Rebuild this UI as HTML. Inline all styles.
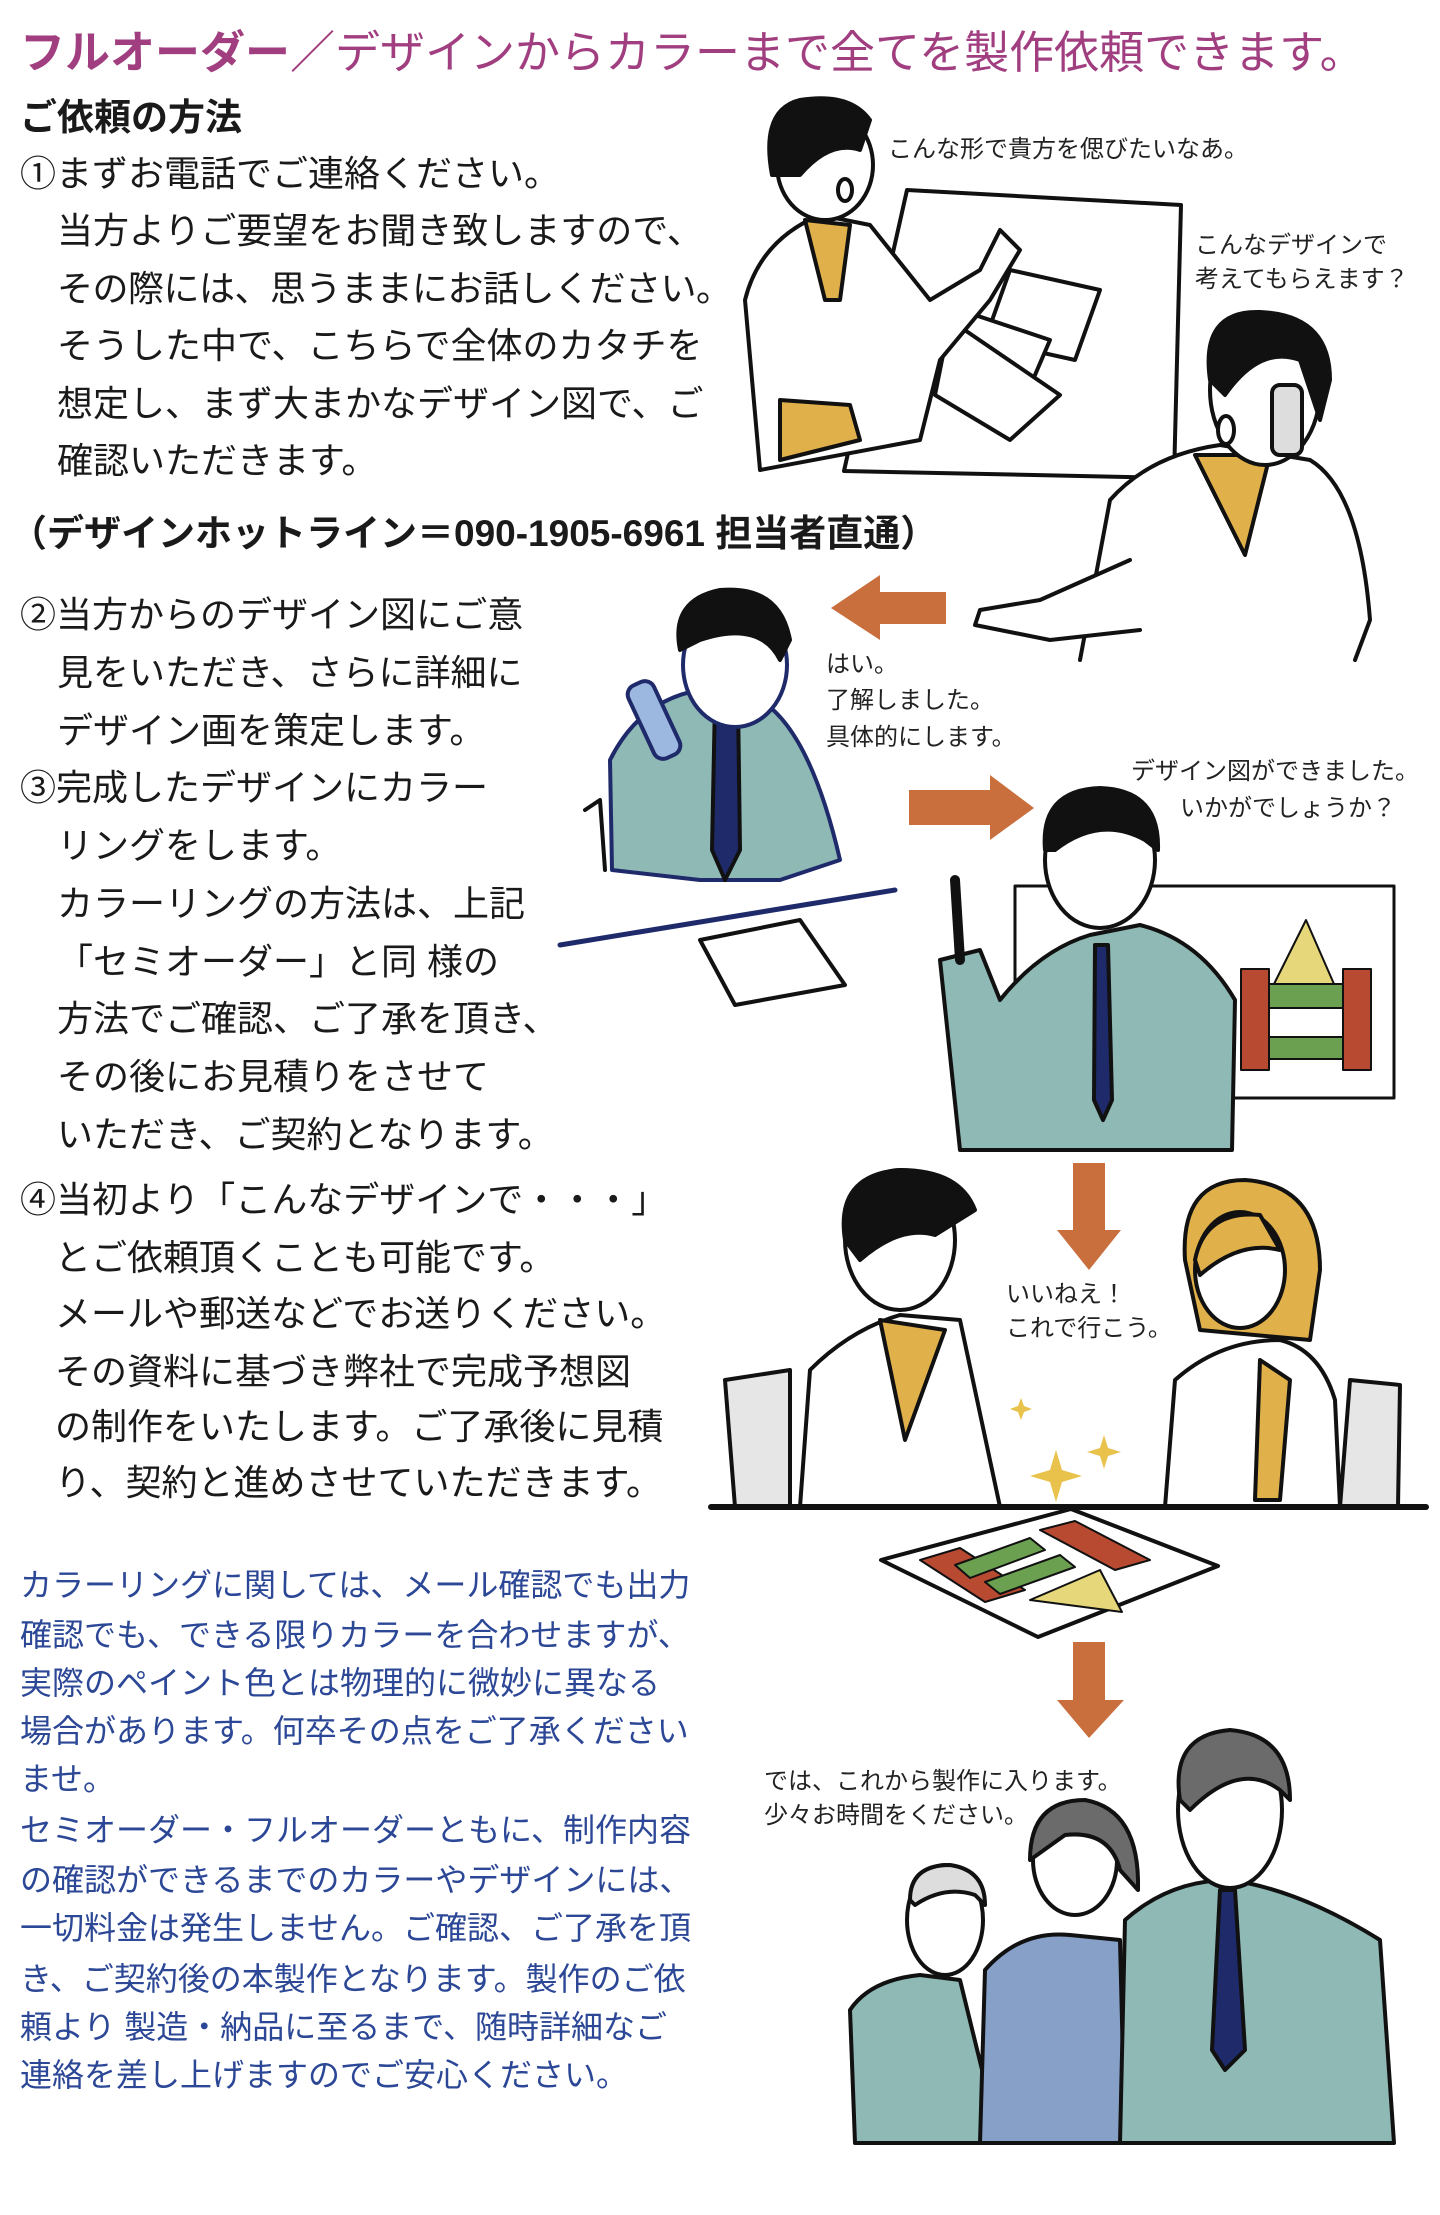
<!DOCTYPE html>
<html><head><meta charset="utf-8"><style>
html,body{margin:0;padding:0;background:#fff;}
body{width:1440px;height:2215px;position:relative;overflow:hidden;font-family:"Liberation Sans","Noto Sans CJK JP",sans-serif;}
.t{position:absolute;white-space:nowrap;color:#1a1a1a;}
.m{font-size:36px;line-height:36px;}
.b{font-size:32px;line-height:32px;color:#2b4796;}
.s{font-size:24px;line-height:24px;color:#222;}
svg{position:absolute;left:0;top:0;}
</style></head><body>
<svg width="1440" height="2215" viewBox="0 0 1440 2215">
<g stroke="#111" stroke-width="4" stroke-linejoin="round" stroke-linecap="round">
<polygon points="907,190 1181,205 1174,478 844,471" fill="#fff"/>
<polygon points="1010,270 1100,290 1075,360 985,340" fill="#fff"/>
<polygon points="960,310 1050,340 1020,410 930,380" fill="#fff"/>
<polygon points="950,320 1060,395 1010,440 935,395" fill="#fff"/>
<path d="M760,470 L745,300 Q760,240 820,215 L870,225 L930,300 L980,270 L1000,230 L1020,250 L990,300 L940,360 L920,440 Z" fill="#fff"/>
<polygon points="805,220 850,225 840,300 825,300" fill="#e0b04a"/>
<path d="M780,400 L850,405 L860,440 L780,460 Z" fill="#e0b04a"/>
<ellipse cx="825" cy="165" rx="48" ry="55" fill="#fff"/>
<path d="M772,175 Q760,110 800,100 Q850,92 870,120 L860,150 Q830,140 800,175 Z" fill="#111"/>
<ellipse cx="845" cy="190" rx="7" ry="11" fill="#fff"/>
<path d="M1080,660 L1110,500 Q1150,455 1220,445 L1310,460 Q1360,490 1370,620 L1355,660" fill="#fff"/>
<polygon points="1195,455 1270,455 1245,555" fill="#e0b04a"/>
<path d="M1130,560 L1040,600 L980,610 L975,625 L1050,640 L1140,630" fill="#fff"/>
<ellipse cx="1265" cy="390" rx="55" ry="75" fill="#fff"/>
<path d="M1210,380 Q1200,310 1260,312 Q1330,315 1330,380 L1320,420 L1300,360 Q1260,345 1225,395 Z" fill="#111"/>
<rect x="1272" y="385" width="30" height="70" rx="8" fill="#ddd"/>
<ellipse cx="1226" cy="430" rx="8" ry="14" fill="#fff"/>
<path d="M585,810 L600,800 L605,870" fill="none"/>
<path d="M612,870 L610,760 Q640,700 700,690 L760,700 Q810,730 840,860 L780,880 L700,880 Z" fill="#8fb9b5" stroke="#1f2a6b"/>
<polygon points="715,700 738,700 740,850 725,880 712,850" fill="#1f2a6b"/>
<ellipse cx="735" cy="665" rx="52" ry="62" fill="#fff" stroke="#1f2a6b"/>
<path d="M680,650 Q670,600 720,590 Q780,585 790,640 L780,660 Q760,620 700,640 Z" fill="#111" stroke="#111"/>
<rect x="640" y="680" width="28" height="80" rx="10" fill="#9cb8e0" stroke="#1f2a6b" transform="rotate(-25 654 720)"/>
<path d="M560,945 L895,890" stroke="#1f2a6b" stroke-width="5"/>
<polygon points="700,940 800,920 845,985 735,1005" fill="#fff"/>
<polygon points="946,592 880,592 880,575 831,608 880,640 880,624 946,624" fill="#c96f3d" stroke="none"/>
<polygon points="909,790 990,790 990,775 1034,808 990,840 990,825 909,825" fill="#c96f3d" stroke="none"/>
<polygon points="1073,1163 1105,1163 1105,1230 1121,1230 1089,1270 1057,1230 1073,1230" fill="#c96f3d" stroke="none"/>
<polygon points="1073,1642 1105,1642 1105,1700 1124,1700 1089,1738 1057,1700 1073,1700" fill="#c96f3d" stroke="none"/>
<rect x="1015" y="886" width="379" height="212" fill="#fff" stroke-width="3"/>
<polygon points="1306,920 1334,984 1274,984" fill="#e6d77a" stroke-width="2"/>
<rect x="1241" y="969" width="28" height="101" fill="#b84a32" stroke-width="2"/>
<rect x="1343" y="969" width="28" height="101" fill="#b84a32" stroke-width="2"/>
<rect x="1269" y="984" width="74" height="24" fill="#6aa050" stroke-width="2"/>
<rect x="1269" y="1037" width="74" height="22" fill="#6aa050" stroke-width="2"/>
<path d="M960,1150 L940,960 L980,950 L1000,1000 Q1040,950 1090,935 L1140,925 Q1200,940 1235,1000 L1232,1150 Z" fill="#8fb9b5"/>
<polygon points="1095,945 1108,945 1112,1100 1103,1120 1094,1100" fill="#1f2a6b"/>
<ellipse cx="1100" cy="860" rx="55" ry="68" fill="#fff"/>
<path d="M1045,850 Q1040,790 1100,788 Q1160,790 1158,850 L1145,840 Q1100,815 1055,850 Z" fill="#111"/>
<path d="M960,960 L955,880" stroke-width="10"/>
<path d="M735,1507 L725,1380 L790,1370 L790,1507" fill="#e6e6e6"/>
<path d="M1340,1507 L1350,1380 L1400,1385 L1398,1507" fill="#e6e6e6"/>
<path d="M800,1507 L810,1370 Q850,1330 900,1315 L960,1320 L1000,1507 Z" fill="#fff"/>
<polygon points="880,1320 945,1330 905,1440" fill="#e0b04a"/>
<ellipse cx="900" cy="1240" rx="55" ry="70" fill="#fff"/>
<path d="M845,1240 Q835,1175 900,1170 Q960,1170 975,1210 L935,1235 Q900,1225 860,1260 Z" fill="#111"/>
<path d="M1165,1507 L1175,1380 Q1220,1340 1280,1340 Q1320,1350 1335,1400 L1340,1507 Z" fill="#fff"/>
<polygon points="1260,1360 1290,1380 1280,1500 1255,1500" fill="#e0b04a"/>
<path d="M1185,1260 Q1180,1180 1245,1180 Q1320,1185 1320,1270 L1310,1340 L1200,1330 Z" fill="#e0b04a"/>
<ellipse cx="1240" cy="1270" rx="45" ry="58" fill="#fff"/>
<path d="M1195,1260 Q1205,1210 1260,1215 L1280,1250 Q1240,1240 1200,1275 Z" fill="#e0b04a"/>
<path d="M711,1507 L1426,1507" stroke-width="6"/>
<path d="M1050,1470 L1056,1450 L1062,1470 L1082,1476 L1062,1482 L1056,1502 L1050,1482 L1030,1476 Z" fill="#e8c24a" stroke="none"/>
<path d="M1018,1406 L1021,1398 L1024,1406 L1032,1409 L1024,1412 L1021,1420 L1018,1412 L1010,1409 Z" fill="#e8c24a" stroke="none"/>
<path d="M1100,1448 L1104,1435 L1108,1448 L1121,1452 L1108,1456 L1104,1469 L1100,1456 L1087,1452 Z" fill="#e8c24a" stroke="none"/>
<polygon points="881,1560 1071,1509 1218,1566 1038,1637" fill="#fff"/>
<polygon points="920,1560 960,1548 1025,1590 985,1602" fill="#b84a32" stroke-width="2"/>
<polygon points="1040,1530 1075,1521 1150,1560 1115,1570" fill="#b84a32" stroke-width="2"/>
<polygon points="955,1565 1030,1538 1045,1550 970,1578" fill="#6aa050" stroke-width="2"/>
<polygon points="985,1582 1060,1555 1075,1567 1000,1594" fill="#6aa050" stroke-width="2"/>
<polygon points="1030,1600 1100,1570 1122,1612" fill="#e6d77a" stroke-width="2"/>
<path d="M855,2143 L850,2010 Q870,1980 920,1975 L960,1980 L1000,2143 Z" fill="#8fb9b5"/>
<ellipse cx="945" cy="1920" rx="38" ry="55" fill="#fff"/>
<path d="M910,1900 Q910,1865 950,1865 Q985,1870 985,1905 L975,1895 Q945,1885 915,1905 Z" fill="#ddd"/>
<path d="M980,2143 L985,1970 Q1020,1930 1070,1935 L1120,1940 L1125,2143 Z" fill="#86a0c8"/>
<ellipse cx="1075" cy="1860" rx="42" ry="55" fill="#fff"/>
<path d="M1030,1860 Q1030,1800 1085,1800 Q1140,1810 1138,1890 L1120,1870 Q1110,1830 1065,1835 Z" fill="#6b6b6b"/>
<path d="M1120,2143 L1125,1920 Q1170,1880 1230,1880 Q1300,1890 1380,1940 L1394,2143 Z" fill="#8fb9b5"/>
<polygon points="1220,1890 1235,1890 1245,2050 1225,2070 1212,2050" fill="#1f2a6b"/>
<ellipse cx="1230" cy="1810" rx="52" ry="78" fill="#fff"/>
<path d="M1180,1800 Q1170,1735 1230,1730 Q1290,1735 1290,1800 L1280,1790 Q1240,1760 1190,1810 Z" fill="#6b6b6b"/>
</g>
</svg>

<div class="t" style="left:20px;top:30px;font-size:45px;line-height:45px;font-weight:bold;color:#a13e80;">フルオーダー<span style="font-weight:normal">／デザインからカラーまで全てを製作依頼できます。</span></div>
<div class="t" style="left:20px;top:99px;font-size:37px;line-height:37px;font-weight:bold;">ご依頼の方法</div>

<div class="t m" style="left:20px;top:156px;">①まずお電話でご連絡ください。</div>
<div class="t m" style="left:57px;top:213px;">当方よりご要望をお聞き致しますので、</div>
<div class="t m" style="left:57px;top:271px;letter-spacing:-0.5px;">その際には、思うままにお話しください。</div>
<div class="t m" style="left:57px;top:328px;">そうした中で、こちらで全体のカタチを</div>
<div class="t m" style="left:57px;top:386px;">想定し、まず大まかなデザイン図で、ご</div>
<div class="t m" style="left:57px;top:443px;">確認いただきます。</div>
<div class="t m" style="left:10px;top:516px;font-weight:bold;font-size:37px;">（デザインホットライン＝090-1905-6961 担当者直通）</div>

<div class="t m" style="left:20px;top:597px;">②当方からのデザイン図にご意</div>
<div class="t m" style="left:57px;top:655px;">見をいただき、さらに詳細に</div>
<div class="t m" style="left:57px;top:713px;">デザイン画を策定します。</div>
<div class="t m" style="left:20px;top:770px;">③完成したデザインにカラー</div>
<div class="t m" style="left:57px;top:828px;">リングをします。</div>
<div class="t m" style="left:57px;top:886px;">カラーリングの方法は、上記</div>
<div class="t m" style="left:57px;top:944px;">「セミオーダー」と同 様の</div>
<div class="t m" style="left:57px;top:1001px;">方法でご確認、ご了承を頂き、</div>
<div class="t m" style="left:57px;top:1059px;">その後にお見積りをさせて</div>
<div class="t m" style="left:57px;top:1117px;">いただき、ご契約となります。</div>
<div class="t m" style="left:20px;top:1182px;">④当初より「こんなデザインで・・・」</div>
<div class="t m" style="left:55px;top:1240px;">とご依頼頂くことも可能です。</div>
<div class="t m" style="left:55px;top:1296px;">メールや郵送などでお送りください。</div>
<div class="t m" style="left:55px;top:1354px;">その資料に基づき弊社で完成予想図</div>
<div class="t m" style="left:55px;top:1409px;">の制作をいたします。ご了承後に見積</div>
<div class="t m" style="left:55px;top:1465px;">り、契約と進めさせていただきます。</div>

<div class="t b" style="left:20px;top:1569px;">カラーリングに関しては、メール確認でも出力</div>
<div class="t b" style="left:20px;top:1619px;">確認でも、できる限りカラーを合わせますが、</div>
<div class="t b" style="left:20px;top:1667px;">実際のペイント色とは物理的に微妙に異なる</div>
<div class="t b" style="left:20px;top:1715px;">場合があります。何卒その点をご了承ください</div>
<div class="t b" style="left:20px;top:1763px;">ませ。</div>
<div class="t b" style="left:20px;top:1814px;">セミオーダー・フルオーダーともに、制作内容</div>
<div class="t b" style="left:20px;top:1864px;">の確認ができるまでのカラーやデザインには、</div>
<div class="t b" style="left:20px;top:1912px;">一切料金は発生しません。ご確認、ご了承を頂</div>
<div class="t b" style="left:20px;top:1963px;">き、ご契約後の本製作となります。製作のご依</div>
<div class="t b" style="left:20px;top:2011px;">頼より 製造・納品に至るまで、随時詳細なご</div>
<div class="t b" style="left:20px;top:2059px;">連絡を差し上げますのでご安心ください。</div>

<div class="t s" style="left:888px;top:138px;">こんな形で貴方を偲びたいなあ。</div>
<div class="t s" style="left:1195px;top:234px;">こんなデザインで</div>
<div class="t s" style="left:1195px;top:268px;">考えてもらえます？</div>
<div class="t s" style="left:826px;top:653px;">はい。</div>
<div class="t s" style="left:826px;top:689px;">了解しました。</div>
<div class="t s" style="left:826px;top:726px;">具体的にします。</div>
<div class="t s" style="left:1131px;top:760px;">デザイン図ができました。</div>
<div class="t s" style="left:1180px;top:797px;">いかがでしょうか？</div>
<div class="t s" style="left:1006px;top:1283px;">いいねえ！</div>
<div class="t s" style="left:1006px;top:1317px;">これで行こう。</div>
<div class="t s" style="left:764px;top:1770px;">では、これから製作に入ります。</div>
<div class="t s" style="left:764px;top:1804px;">少々お時間をください。</div>
</body></html>
